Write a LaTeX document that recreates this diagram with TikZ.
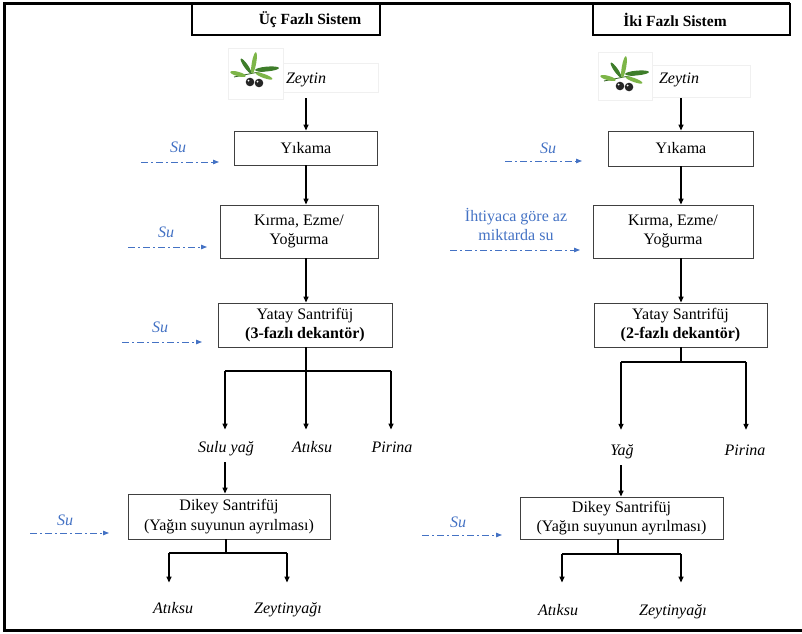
\documentclass[tikz,border=0pt]{standalone}
\usepackage{fontspec}
\setmainfont{Liberation Serif}
\usetikzlibrary{arrows.meta}
\definecolor{waterblue}{HTML}{4472C4}
\definecolor{leafdark}{HTML}{3E7D2A}
\definecolor{leaflight}{HTML}{7DB548}
\definecolor{ghostline}{HTML}{F0F0F0}
\begin{document}
\begin{tikzpicture}[x=1pt,y=-1pt,
  every node/.style={font=\fontsize{16}{19.5}\selectfont},
  stepbox/.style={draw=black!75, line width=0.9pt, align=center, inner sep=0pt},
  titlebox/.style={draw=black, line width=1.3pt, inner sep=0pt},
  titletext/.style={font=\fontsize{15.5}{19}\selectfont\bfseries},
  prod/.style={font=\fontsize{16}{19.5}\selectfont\itshape, text height=11pt, text depth=3.5pt, inner xsep=2pt, inner ysep=#1},
  prod/.default=12pt,
  water/.style={font=\fontsize{16}{19.5}\selectfont\itshape, text=waterblue},
  waterarrow/.style={draw=waterblue, line width=0.9pt, dash pattern=on 7pt off 3pt on 2pt off 3pt,
    -{Triangle[length=6pt,width=4.5pt]}},
  flow/.style={draw=black, line width=1.3pt, -{Triangle[length=6pt,width=5pt]}},
  trunk/.style={draw=black, line width=1.3pt},
  ghost/.style={draw=ghostline, line width=0.6pt},
  olive/.pic={
    \draw[leafdark!80!black, line width=0.8pt] (-21,5) .. controls (-6,2) and (8,-1) .. (21,-3);
    \begin{scope}[shift={(-1,-9)}, rotate=80] \fill[leaflight] (0,0) ellipse (11 and 2.2); \end{scope}
    \begin{scope}[shift={(-9,-6)}, rotate=125] \fill[leafdark] (0,0) ellipse (9 and 2); \end{scope}
    \begin{scope}[shift={(-17,2)}, rotate=165] \fill[leaflight] (0,0) ellipse (8 and 2.2); \end{scope}
    \begin{scope}[shift={(12,-3)}, rotate=5] \fill[leafdark] (0,0) ellipse (12 and 2.4); \end{scope}
    \begin{scope}[shift={(9,4)}, rotate=-20] \fill[leaflight] (0,0) ellipse (9 and 2); \end{scope}
    \fill[black!85] (-5,10) circle (4.3);
    \fill[black!85] (4,11) circle (4.3);
    \fill[white] (-6.5,8.5) circle (1);
    \fill[white] (2.5,9.5) circle (1);
  }
]
\useasboundingbox (0,0) rectangle (802,633);

% page frame
\draw[line width=3pt] (790,3) -- (4.5,3) -- (4.5,630) -- (802,630);

% ---------------- three-phase system ----------------
\node[titlebox, minimum width=188pt, minimum height=31pt] (tL) at (286,19.5) {};
\node[titletext] (tLt) at (310,19.5) {Üç Fazlı Sistem};

\draw[ghost] (228,48) rectangle (283,99);
\draw[ghost] (283,63) rectangle (378,92);
\pic at (255,72) {olive};
\node[prod=11pt] (zeyL) at (306,80) {Zeytin};

\node[stepbox, minimum width=143pt, minimum height=34pt] (yikL) at (306,148) {Yıkama};
\node[stepbox, minimum width=158pt, minimum height=53pt] (kirL) at (299,231.5) {Kırma, Ezme/\\Yoğurma};
\node[stepbox, minimum width=174pt, minimum height=44pt] (yatL) at (305,325) {Yatay Santrifüj\\\textbf{(3-fazlı dekantör)}};

\draw[flow] (zeyL.south) -- (zeyL.south |- yikL.north);
\draw[flow] (yikL.south) -- (yikL.south |- kirL.north);
\draw[flow] (kirL.south -| yikL.south) -- (yatL.north -| yikL.south);

% split after the horizontal decanter
\node[prod] (suluL) at (226,449) {Sulu yağ};
\node[prod] (atkL) at (312,449) {Atıksu};
\node[prod] (pirL) at (392,449) {Pirina};
\coordinate (jL1) at (225,371);
\coordinate (jL2) at (306,371);
\coordinate (jL3) at (391,371);
\draw[trunk] (jL2 |- yatL.south) -- (jL2);
\draw[trunk] (jL1) -- (jL3);
\draw[flow] (jL1) -- (jL1 |- suluL.north);
\draw[flow] (jL2) -- (jL2 |- atkL.north);
\draw[flow] (jL3) -- (jL3 |- pirL.north);

\node[stepbox, minimum width=202pt, minimum height=45pt] (dikL) at (229,516.5) {Dikey Santrifüj\\(Yağın suyunun ayrılması)};
\draw[flow, shorten <=-6pt] (suluL.south -| jL1) -- (dikL.north -| jL1);

\node[prod] (atk2L) at (173,610) {Atıksu};
\node[prod] (zyL) at (288,610) {Zeytinyağı};
\coordinate (kL) at (226,553);
\coordinate (kL1) at (169,553);
\coordinate (kL2) at (287,553);
\draw[trunk] (kL |- dikL.south) -- (kL);
\draw[trunk] (kL1) -- (kL2);
\draw[flow, shorten >=8pt] (kL1) -- (kL1 |- atk2L.north);
\draw[flow, shorten >=8pt] (kL2) -- (kL2 |- zyL.north);

% water inputs
\node[water] (suL1) at (178,147) {Su};
\coordinate (wL1a) at (141,162); \coordinate (wL1b) at (219,162);
\draw[waterarrow] (wL1a) -- (wL1b);
\node[water] (suL2) at (166,232) {Su};
\coordinate (wL2a) at (128,247); \coordinate (wL2b) at (207,247);
\draw[waterarrow] (wL2a) -- (wL2b);
\node[water] (suL3) at (160,327) {Su};
\coordinate (wL3a) at (122,342); \coordinate (wL3b) at (202,342);
\draw[waterarrow] (wL3a) -- (wL3b);
\node[water] (suL4) at (65,520) {Su};
\coordinate (wL4a) at (30,533); \coordinate (wL4b) at (109,533);
\draw[waterarrow] (wL4a) -- (wL4b);

% ---------------- two-phase system ----------------
\node[titlebox, minimum width=197pt, minimum height=31pt] (tR) at (691.5,19.5) {};
\node[titletext] (tRt) at (675,19.5) {İki Fazlı Sistem};

\draw[ghost] (598,52) rectangle (652,100);
\draw[ghost] (652,65) rectangle (750,97);
\pic at (625,76) {olive};
\node[prod=11pt] (zeyR) at (679,80) {Zeytin};

\node[stepbox, minimum width=145pt, minimum height=35pt] (yikR) at (681,148.5) {Yıkama};
\node[stepbox, minimum width=160pt, minimum height=53pt] (kirR) at (673,231.5) {Kırma, Ezme/\\Yoğurma};
\node[stepbox, minimum width=173pt, minimum height=44pt] (yatR) at (680.5,325) {Yatay Santrifüj\\\textbf{(2-fazlı dekantör)}};

\draw[flow] (zeyR.south -| yikR.north) -- (yikR.north);
\draw[flow] (yikR.south) -- (yikR.south |- kirR.north);
\draw[flow] (kirR.south -| yikR.south) -- (yatR.north -| yikR.south);

\node[prod=14.75pt] (yagR) at (622,452) {Yağ};
\node[prod=14.75pt] (pirR) at (745,452) {Pirina};
\coordinate (jR1) at (621,362);
\coordinate (jR2) at (681,362);
\coordinate (jR3) at (746,362);
\draw[trunk] (yatR.south -| jR2) -- (jR2);
\draw[trunk] (jR1) -- (jR3);
\draw[flow] (jR1) -- (jR1 |- yagR.north);
\draw[flow] (jR3) -- (jR3 |- pirR.north);

\node[stepbox, minimum width=203pt, minimum height=42pt] (dikR) at (621.5,518) {Dikey Santrifüj\\(Yağın suyunun ayrılması)};
\draw[flow, shorten <=-9pt] (yagR.south -| jR1) -- (dikR.north -| jR1);

\node[prod] (atk2R) at (558,612) {Atıksu};
\node[prod] (zyR) at (673,612) {Zeytinyağı};
\coordinate (kR) at (618,554);
\coordinate (kR1) at (562,554);
\coordinate (kR2) at (681,554);
\draw[trunk] (kR |- dikR.south) -- (kR);
\draw[trunk] (kR1) -- (kR2);
\draw[flow, shorten >=10pt] (kR1) -- (kR1 |- atk2R.north);
\draw[flow, shorten >=10pt] (kR2) -- (kR2 |- zyR.north);

% water inputs
\node[water] (suR1) at (548,148) {Su};
\coordinate (wR1a) at (505,161); \coordinate (wR1b) at (582,161);
\draw[waterarrow] (wR1a) -- (wR1b);
\node[font=\fontsize{16}{19.5}\selectfont, text=waterblue, align=center] (suR2) at (516,224.5) {İhtiyaca göre az\\miktarda su};
\coordinate (wR2a) at (450,250); \coordinate (wR2b) at (580,250);
\draw[waterarrow] (wR2a) -- (wR2b);
\node[water] (suR4) at (458,522) {Su};
\coordinate (wR4a) at (422,535); \coordinate (wR4b) at (502,535);
\draw[waterarrow] (wR4a) -- (wR4b);
\end{tikzpicture}
\end{document}
